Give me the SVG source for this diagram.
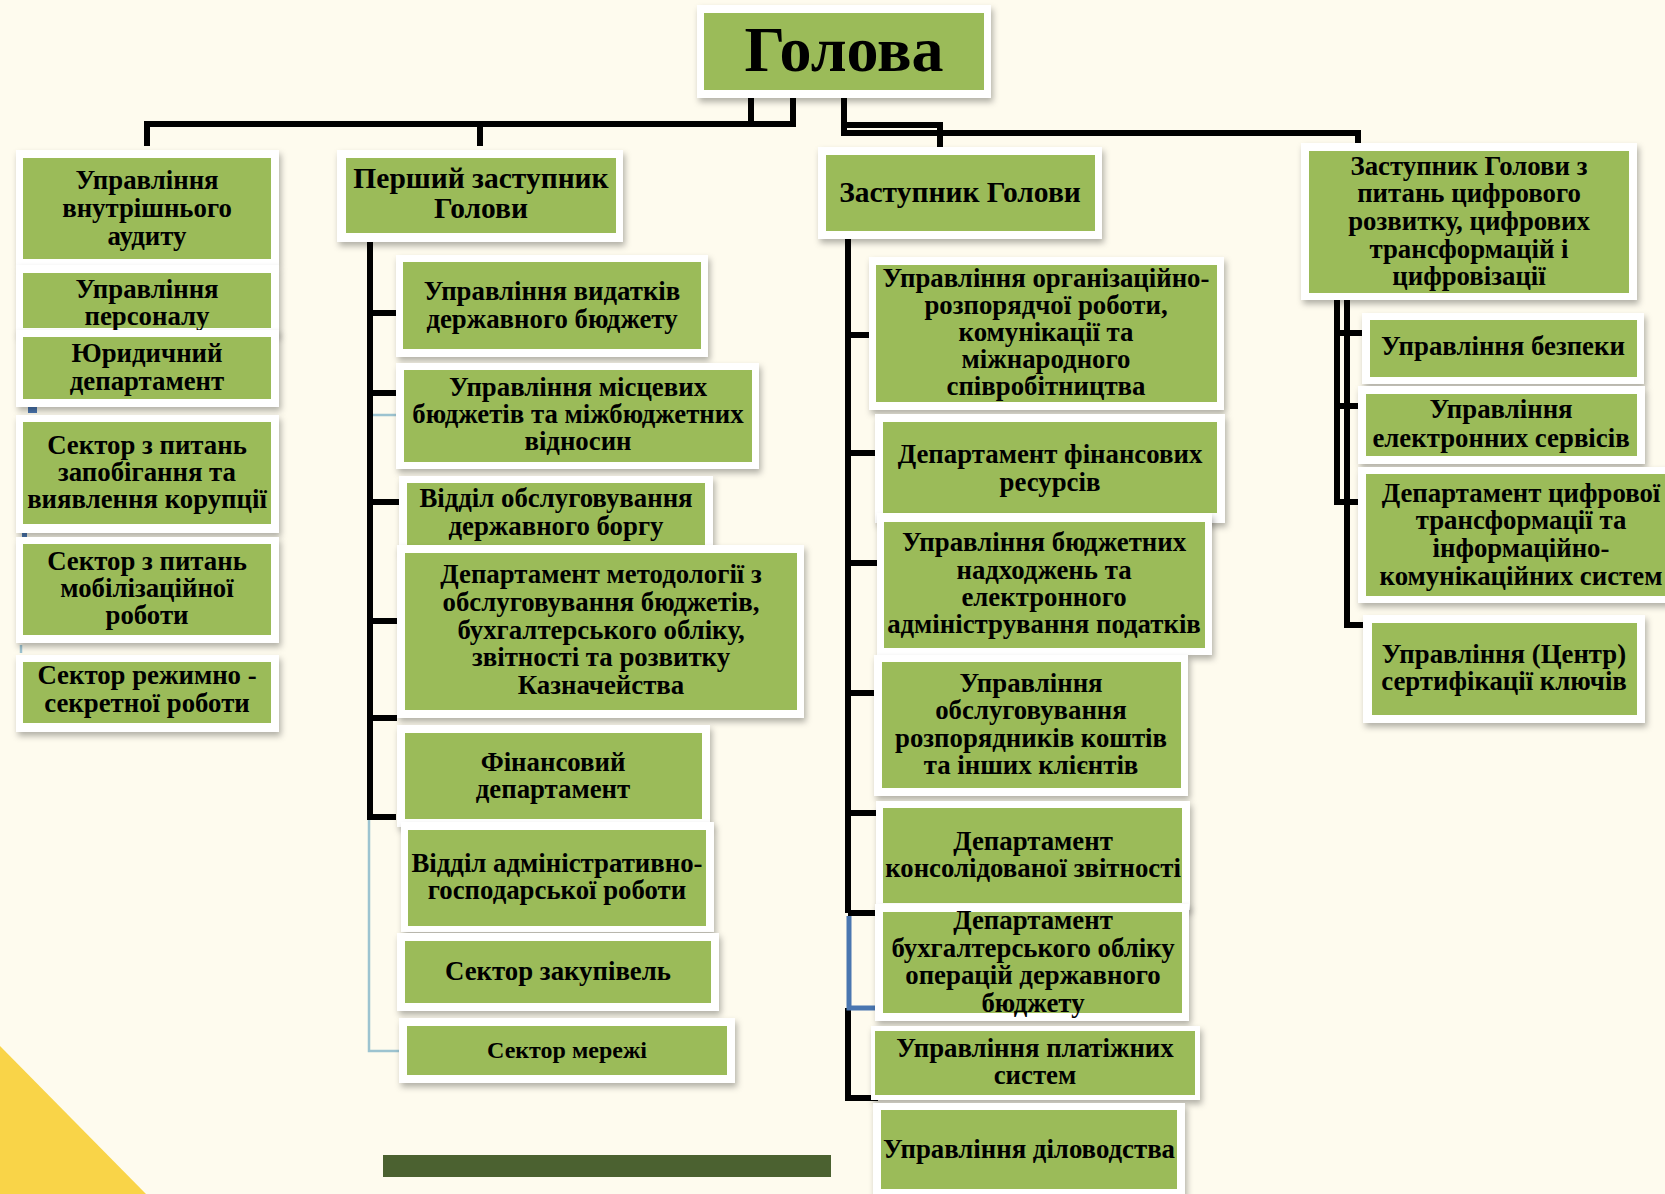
<svg xmlns="http://www.w3.org/2000/svg" width="1665" height="1194" viewBox="0 0 1665 1194">
<defs>
<filter id="sh" x="-10%" y="-10%" width="130%" height="140%">
<feDropShadow dx="2" dy="4" stdDeviation="3" flood-color="#000" flood-opacity="0.3"/>
</filter>
<style>
.fr{fill:#fff;filter:url(#sh)}
.gr{fill:#9BBB59}
.t{font-family:"Liberation Serif","Times New Roman",serif;font-weight:bold;font-size:26.8px;text-anchor:middle;fill:#000}
.big{font-size:29.5px}
.ln{stroke:#000;stroke-width:6;fill:none}
.lb{stroke:#9cc3d0;stroke-width:2.5;fill:none}
.bl{stroke:#4a76b0;stroke-width:5;fill:none}
</style>
</defs>
<rect width="1665" height="1194" fill="#FEFBEE"/>
<polygon points="0,1046 146,1194 0,1194" fill="#F9D448"/>
<rect x="383" y="1155" width="448" height="22" fill="#4B6130"/>

<g id="connectors">
<path class="ln" d="M147,146 V124 H793 V98 M751,98 V124 M480,124 V146"/>
<path class="ln" d="M844,98 V133 H1358 V143 M844,125 H940 V147"/>
<path class="lb" d="M370,317 V415 H396 M369,820 V1051 H399"/>
<path class="ln" d="M370,242 V817 H396 M370,313 H396 M370,393 H396 M370,502 H399 M370,621 H397 M370,718 H397"/>
<path class="ln" d="M848,239 V913 M848,1008 V1098 H878 M848,335 H869 M848,453 H875 M848,563 H877 M848,693 H874 M848,813 H876 M848,913 H875"/>
<path class="bl" d="M849,916 V1008 H875"/>
<path class="ln" d="M1337,300 V502 H1358 M1347,300 V625 H1363 M1337,333 H1362 M1337,406 H1358"/>
<rect x="28" y="407" width="9" height="6" fill="#4a76b0"/>
<rect x="22" y="533" width="5" height="4" fill="#4a76b0"/>
<path class="lb" d="M21,645 V653"/>
</g>

<g id="golova"><rect class="fr" x="697" y="5" width="294" height="93"/><rect class="gr" x="704" y="13" width="280" height="77"/><text class="t" x="844" y="71" style="font-size:64px">Голова</text></g>

<g id="n_audit"><rect class="fr" x="16" y="150" width="263" height="115"/><rect class="gr" x="23" y="158" width="248" height="101"/><text class="t" x="147" y="189">Управління</text><text class="t" x="147" y="217">внутрішнього</text><text class="t" x="147" y="245">аудиту</text></g>
<g id="n_personnel"><rect class="fr" x="16" y="265" width="263" height="70"/><rect class="gr" x="23" y="273" width="248" height="55"/><text class="t" x="147" y="298">Управління</text><text class="t" x="147" y="325">персоналу</text></g>
<g id="n_legal"><rect class="fr" x="16" y="330" width="263" height="77"/><rect class="gr" x="23" y="337" width="248" height="62"/><text class="t" x="147" y="362">Юридичний</text><text class="t" x="147" y="390">департамент</text></g>
<g id="n_corruption"><rect class="fr" x="16" y="415" width="263" height="118"/><rect class="gr" x="23" y="422" width="248" height="102"/><text class="t" x="147" y="454">Сектор з питань</text><text class="t" x="147" y="481">запобігання та</text><text class="t" x="147" y="508">виявлення корупції</text></g>
<g id="n_mobil"><rect class="fr" x="16" y="537" width="263" height="106"/><rect class="gr" x="23" y="544" width="248" height="91"/><text class="t" x="147" y="570">Сектор з питань</text><text class="t" x="147" y="597">мобілізаційної</text><text class="t" x="147" y="624">роботи</text></g>
<g id="n_secret"><rect class="fr" x="16" y="655" width="263" height="77"/><rect class="gr" x="23" y="662" width="248" height="61"/><text class="t" x="147" y="684">Сектор режимно -</text><text class="t" x="147" y="712">секретної роботи</text></g>

<g id="n_first"><rect class="fr" x="337" y="150" width="286" height="92"/><rect class="gr" x="346" y="158" width="270" height="75"/><text class="t big" x="481" y="188">Перший заступник</text><text class="t big" x="481" y="218">Голови</text></g>
<g id="n_exp"><rect class="fr" x="396" y="255" width="312" height="102"/><rect class="gr" x="403" y="262" width="298" height="87"/><text class="t" x="552" y="300">Управління видатків</text><text class="t" x="552" y="328">державного бюджету</text></g>
<g id="n_local"><rect class="fr" x="396" y="363" width="363" height="106"/><rect class="gr" x="404" y="370" width="348" height="92"/><text class="t" x="578" y="396">Управління місцевих</text><text class="t" x="578" y="423">бюджетів та міжбюджетних</text><text class="t" x="578" y="450">відносин</text></g>
<g id="n_debt"><rect class="fr" x="399" y="476" width="314" height="76"/><rect class="gr" x="407" y="483" width="298" height="65"/><text class="t" x="556" y="507">Відділ обслуговування</text><text class="t" x="556" y="535">державного боргу</text></g>
<g id="n_method"><rect class="fr" x="397" y="545" width="407" height="173"/><rect class="gr" x="405" y="553" width="392" height="157"/><text class="t" x="601" y="583">Департамент методології з</text><text class="t" x="601" y="611">обслуговування бюджетів,</text><text class="t" x="601" y="639">бухгалтерського обліку,</text><text class="t" x="601" y="666">звітності та розвитку</text><text class="t" x="601" y="694">Казначейства</text></g>
<g id="n_fin"><rect class="fr" x="397" y="725" width="313" height="102"/><rect class="gr" x="405" y="733" width="297" height="86"/><text class="t" x="553" y="771">Фінансовий</text><text class="t" x="553" y="798">департамент</text></g>
<g id="n_admin"><rect class="fr" x="401" y="822" width="313" height="110"/><rect class="gr" x="408" y="830" width="298" height="96"/><text class="t" x="557" y="872">Відділ адміністративно-</text><text class="t" x="557" y="899">господарської роботи</text></g>
<g id="n_purch"><rect class="fr" x="397" y="933" width="322" height="78"/><rect class="gr" x="405" y="941" width="306" height="62"/><text class="t" x="558" y="980">Сектор закупівель</text></g>
<g id="n_net"><rect class="fr" x="399" y="1018" width="336" height="65"/><rect class="gr" x="407" y="1026" width="320" height="49"/><text class="t" x="567" y="1058" style="font-size:24px">Сектор мережі</text></g>

<g id="n_deputy"><rect class="fr" x="818" y="147" width="284" height="92"/><rect class="gr" x="826" y="155" width="269" height="76"/><text class="t big" x="960" y="202">Заступник Голови</text></g>
<g id="n_org"><rect class="fr" x="869" y="257" width="355" height="153"/><rect class="gr" x="876" y="265" width="341" height="137"/><text class="t" x="1046" y="287">Управління організаційно-</text><text class="t" x="1046" y="314">розпорядчої роботи,</text><text class="t" x="1046" y="341">комунікації та</text><text class="t" x="1046" y="368">міжнародного</text><text class="t" x="1046" y="395">співробітництва</text></g>
<g id="n_finres"><rect class="fr" x="875" y="414" width="350" height="109"/><rect class="gr" x="883" y="422" width="334" height="91"/><text class="t" x="1050" y="463">Департамент фінансових</text><text class="t" x="1050" y="491">ресурсів</text></g>
<g id="n_revenue"><rect class="fr" x="877" y="513" width="335" height="142"/><rect class="gr" x="884" y="522" width="321" height="126"/><text class="t" x="1044" y="551">Управління бюджетних</text><text class="t" x="1044" y="579">надходжень та</text><text class="t" x="1044" y="606">електронного</text><text class="t" x="1044" y="633">адміністрування податків</text></g>
<g id="n_clients"><rect class="fr" x="874" y="655" width="314" height="141"/><rect class="gr" x="882" y="662" width="299" height="126"/><text class="t" x="1031" y="692">Управління</text><text class="t" x="1031" y="719">обслуговування</text><text class="t" x="1031" y="747">розпорядників коштів</text><text class="t" x="1031" y="774">та інших клієнтів</text></g>
<g id="n_consol"><rect class="fr" x="876" y="801" width="314" height="109"/><rect class="gr" x="883" y="808" width="299" height="95"/><text class="t" x="1033" y="850">Департамент</text><text class="t" x="1033" y="877">консолідованої звітності</text></g>
<g id="n_acc"><rect class="fr" x="875" y="904" width="314" height="117"/><rect class="gr" x="883" y="912" width="299" height="101"/><text class="t" x="1033" y="929">Департамент</text><text class="t" x="1033" y="957">бухгалтерського обліку</text><text class="t" x="1033" y="984">операцій державного</text><text class="t" x="1033" y="1012">бюджету</text></g>
<g id="n_pay"><rect class="fr" x="871" y="1026" width="329" height="74"/><rect class="gr" x="875" y="1031" width="320" height="64"/><text class="t" x="1035" y="1057">Управління платіжних</text><text class="t" x="1035" y="1084">систем</text></g>
<g id="n_docs"><rect class="fr" x="873" y="1103" width="312" height="100"/><rect class="gr" x="881" y="1110" width="296" height="79"/><text class="t" x="1029" y="1158">Управління діловодства</text></g>

<g id="n_digital"><rect class="fr" x="1301" y="143" width="336" height="157"/><rect class="gr" x="1309" y="151" width="320" height="142"/><text class="t" x="1469" y="175">Заступник Голови з</text><text class="t" x="1469" y="202">питань цифрового</text><text class="t" x="1469" y="230">розвитку, цифрових</text><text class="t" x="1469" y="258">трансформацій і</text><text class="t" x="1469" y="285">цифровізації</text></g>
<g id="n_security"><rect class="fr" x="1362" y="313" width="282" height="71"/><rect class="gr" x="1370" y="320" width="267" height="57"/><text class="t" x="1503" y="355">Управління безпеки</text></g>
<g id="n_eserv"><rect class="fr" x="1358" y="386" width="287" height="78"/><rect class="gr" x="1366" y="394" width="271" height="62"/><text class="t" x="1501" y="418">Управління</text><text class="t" x="1501" y="447">електронних сервісів</text></g>
<g id="n_dtrans"><rect class="fr" x="1358" y="467" width="320" height="136"/><rect class="gr" x="1366" y="474" width="310" height="122"/><text class="t" x="1521" y="502">Департамент цифрової</text><text class="t" x="1521" y="529">трансформації та</text><text class="t" x="1521" y="557">інформаційно-</text><text class="t" x="1521" y="585">комунікаційних систем</text></g>
<g id="n_cert"><rect class="fr" x="1363" y="615" width="282" height="108"/><rect class="gr" x="1372" y="623" width="265" height="92"/><text class="t" x="1504" y="663">Управління (Центр)</text><text class="t" x="1504" y="690">сертифікації ключів</text></g>
</svg>
